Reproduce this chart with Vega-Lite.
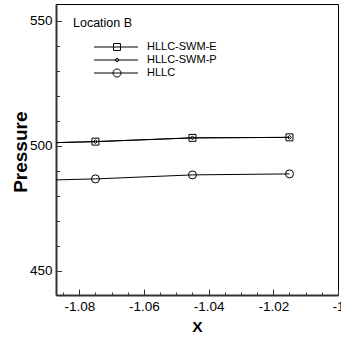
{
  "$schema": "https://vega.github.io/schema/vega-lite/v6.json",
  "width": 282,
  "height": 291,
  "autosize": {"type": "none"},
  "padding": {"left": 56, "top": 4, "right": 3, "bottom": 42},
  "background": "white",
  "config": {
    "font": "Liberation Sans",
    "view": {"stroke": "black", "strokeWidth": 1}
  },
  "datasets": {
    "lines": [
      {"series": "HLLC-SWM-E", "x": -1.0872, "p": 501.3},
      {"series": "HLLC-SWM-E", "x": -1.075, "p": 501.7},
      {"series": "HLLC-SWM-E", "x": -1.045, "p": 503.2},
      {"series": "HLLC-SWM-E", "x": -1.015, "p": 503.4},
      {"series": "HLLC-SWM-P", "x": -1.0872, "p": 501.3},
      {"series": "HLLC-SWM-P", "x": -1.075, "p": 501.7},
      {"series": "HLLC-SWM-P", "x": -1.045, "p": 503.2},
      {"series": "HLLC-SWM-P", "x": -1.015, "p": 503.4},
      {"series": "HLLC", "x": -1.0872, "p": 486.4},
      {"series": "HLLC", "x": -1.075, "p": 486.8},
      {"series": "HLLC", "x": -1.045, "p": 488.4},
      {"series": "HLLC", "x": -1.015, "p": 488.8}
    ],
    "markers": [
      {"series": "HLLC-SWM-E", "x": -1.075, "p": 501.7},
      {"series": "HLLC-SWM-E", "x": -1.045, "p": 503.2},
      {"series": "HLLC-SWM-E", "x": -1.015, "p": 503.4},
      {"series": "HLLC-SWM-P", "x": -1.075, "p": 501.7},
      {"series": "HLLC-SWM-P", "x": -1.045, "p": 503.2},
      {"series": "HLLC-SWM-P", "x": -1.015, "p": 503.4},
      {"series": "HLLC", "x": -1.075, "p": 486.8},
      {"series": "HLLC", "x": -1.045, "p": 488.4},
      {"series": "HLLC", "x": -1.015, "p": 488.8}
    ]
  },
  "encoding": {
    "x": {
      "field": "x",
      "type": "quantitative",
      "scale": {"domain": [-1.0872, -1.0], "nice": false, "zero": false},
      "axis": {
        "title": "X",
        "titleFont": "Liberation Sans",
        "titleFontSize": 15.5,
        "titleFontWeight": "bold",
        "titleColor": "black",
        "titleBaseline": "alphabetic",
        "titleX": 141,
        "titleY": 36.7,
        "values": [-1.085, -1.08, -1.075, -1.07, -1.065, -1.06, -1.055, -1.05, -1.045, -1.04, -1.035, -1.03, -1.025, -1.02, -1.015, -1.01, -1.005, -1.0],
        "labelExpr": "abs(datum.value + 1) < 1e-9 ? '-1' : (abs(datum.value*50 - round(datum.value*50)) < 1e-6 ? replace(format(datum.value, '.2f'), '\u2212', '-') : '')",
        "labelFontSize": 13.5,
        "labelColor": "black",
        "labelPadding": 10.5,
        "labelOverlap": false,
        "labelBound": false,
        "labelFlush": false,
        "grid": false,
        "domainColor": "#333333",
        "domainWidth": 2,
        "tickColor": "#333333",
        "tickWidth": 1,
        "tickSize": {"condition": {"test": "abs(datum.value*50 - round(datum.value*50)) < 1e-6", "value": -6}, "value": -3}
      }
    },
    "y": {
      "field": "p",
      "type": "quantitative",
      "scale": {"domain": [440.4, 556.7], "nice": false, "zero": false},
      "axis": {
        "title": "Pressure",
        "titleFont": "Liberation Sans",
        "titleFontSize": 19,
        "titleFontWeight": "bold",
        "titleColor": "black",
        "titleBaseline": "alphabetic",
        "titleAngle": -90,
        "titleX": -29.3,
        "titleY": 147.7,
        "titleAlign": "center",
        "values": [450, 460, 470, 480, 490, 500, 510, 520, 530, 540, 550],
        "labelExpr": "datum.value % 50 == 0 ? format(datum.value, 'd') : ''",
        "labelFontSize": 13.5,
        "labelColor": "black",
        "labelPadding": 9.5,
        "labelOverlap": false,
        "labelBound": false,
        "grid": false,
        "domainColor": "#333333",
        "domainWidth": 2,
        "tickColor": "#333333",
        "tickWidth": 1,
        "tickSize": {"condition": {"test": "datum.value % 50 == 0", "value": -5.5}, "value": -3.5}
      }
    }
  },
  "layer": [
    {
      "data": {"name": "lines"},
      "mark": {"type": "line", "color": "black", "strokeWidth": 1},
      "encoding": {"detail": {"field": "series"}}
    },
    {
      "data": {"name": "markers"},
      "mark": {"type": "point", "filled": false, "color": "black", "strokeWidth": 1, "size": 64, "opacity": 1},
      "encoding": {
        "shape": {
          "field": "series",
          "scale": {
            "domain": ["HLLC-SWM-E", "HLLC-SWM-P", "HLLC"],
            "range": ["M-0.87,-0.87H0.87V0.87H-0.87Z", "M0,-0.5L0.5,0L0,0.5L-0.5,0Z", "circle"]
          },
          "legend": null
        }
      }
    },
    {
      "data": {"name": "markers"},
      "mark": {"type": "point", "filled": false, "color": "black", "opacity": 0},
      "encoding": {
        "shape": {
          "field": "series",
          "scale": {
            "domain": ["HLLC-SWM-E", "HLLC-SWM-P", "HLLC"],
            "range": [
              "M2.42,0H9.75M5.67,-0.58H6.83V0.58H5.67Z",
              "M2.42,0H9.75M6.25,-0.35L6.6,0L6.25,0.35L5.9,0Z",
              "M2.42,0H9.75M6.92,0A0.67,0.67,0,1,1,5.58,0A0.67,0.67,0,1,1,6.92,0Z"
            ]
          },
          "legend": {
            "title": "Location B",
            "orient": "none",
            "legendX": 17,
            "legendY": 13,
            "padding": 0,
            "titleFont": "Liberation Sans",
            "titleFontSize": 12.5,
            "titleFontWeight": "normal",
            "titleColor": "black",
            "titlePadding": 11,
            "labelFont": "Liberation Sans",
            "labelFontSize": 11,
            "labelColor": "black",
            "labelOffset": 61,
            "symbolSize": 144,
            "symbolOpacity": 1,
            "symbolStrokeColor": "black",
            "symbolFillColor": "transparent",
            "symbolStrokeWidth": 1,
            "rowPadding": 1
          }
        }
      }
    }
  ],
  "resolve": {"scale": {"shape": "independent"}}
}
